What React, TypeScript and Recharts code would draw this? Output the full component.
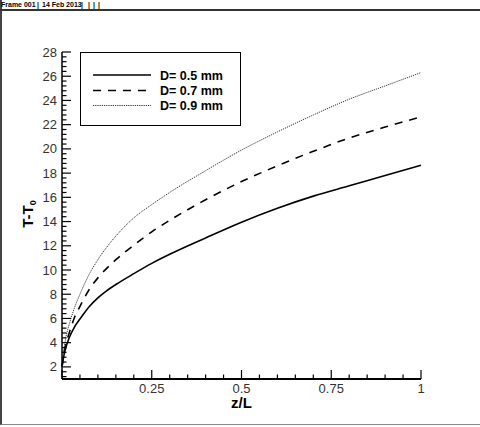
import { Line, LineChart, XAxis, YAxis } from 'recharts';

// z/L sample positions and temperature rise
const zValues = [0, 0.005, 0.01, 0.02, 0.035, 0.05, 0.075, 0.1, 0.125, 0.15, 0.2, 0.25, 0.3, 0.4, 0.5, 0.6, 0.7, 0.8, 0.9, 1];
const riseD05 = [2.0, 2.9, 3.5, 4.4, 5.3, 5.95, 6.95, 7.7, 8.3, 8.8, 9.7, 10.55, 11.3, 12.65, 13.95, 15.1, 16.1, 16.95, 17.8, 18.65];
const riseD07 = [2.0, 3.1, 3.8, 4.8, 6.1, 7.0, 8.35, 9.35, 10.15, 10.85, 12.05, 13.15, 14.1, 15.8, 17.3, 18.6, 19.8, 20.9, 21.8, 22.65];
const riseD09 = [2.0, 3.3, 4.3, 5.5, 6.9, 8.0, 9.6, 10.85, 11.9, 12.8, 14.3, 15.4, 16.4, 18.2, 19.9, 21.4, 22.8, 24.1, 25.2, 26.3];

const seriesNames = ['D= 0.5 mm', 'D= 0.7 mm', 'D= 0.9 mm'];

const xMajorTicks = [0.25, 0.5, 0.75, 1];
const xTickLabels = ['0.25', '0.5', '0.75', '1'];
const yMajorTicks = [2, 4, 6, 8, 10, 12, 14, 16, 18, 20, 22, 24, 26, 28];

const FONT = '"Liberation Sans", Arial, sans-serif';

const data = zValues.map((z, i) => ({ z, d05: riseD05[i], d07: riseD07[i], d09: riseD09[i] }));

// minor ticks: every 0.05 on x, every 0.4 on y
const xTicks = Array.from({ length: 21 }, (_, i) => Math.round(i * 5) / 100);
const yTicks = Array.from({ length: 68 }, (_, i) => Math.round(12 + i * 4) / 10);

const lineStyles = [
  { key: 'd05', stroke: '#000', width: 1.6, dash: undefined as string | undefined },
  { key: 'd07', stroke: '#000', width: 1.6, dash: '8 7' },
  { key: 'd09', stroke: '#333', width: 1, dash: '1.2 1' },
];

function XTick(props: any) {
  const { x, y, payload } = props;
  const v = payload.value as number;
  const idx = xMajorTicks.indexOf(v);
  const len = idx >= 0 || v === 0 ? 9 : 4.5;
  return (
    <g>
      <path d={`M${x},${y}L${x},${y - len}`} stroke="#000" strokeWidth={1.2} fill="none" />
      {idx >= 0 && (
        <text x={x} y={y + 13.5} textAnchor="middle" fontSize={13} fill="#333" fontFamily={FONT}>
          {xTickLabels[idx]}
        </text>
      )}
    </g>
  );
}

function YTick(props: any) {
  const { x, y, payload } = props;
  const v = payload.value as number;
  const major = yMajorTicks.includes(v);
  const len = major ? 9 : 4.5;
  return (
    <g>
      <path d={`M${x},${y}L${x + len},${y}`} stroke="#000" strokeWidth={1.2} fill="none" />
      {major && (
        <text x={x - 5} y={y + 4.5} textAnchor="end" fontSize={13} fill="#333" fontFamily={FONT}>
          {v}
        </text>
      )}
    </g>
  );
}

// legend + axis titles drawn on a transparent layer over the chart
function Overlay() {
  const rows = [75, 90.5, 105.5];
  const cy = 214;
  return (
    <svg
      width={480}
      height={427}
      style={{ position: 'absolute', left: 0, top: 0, pointerEvents: 'none' }}
    >
      <rect x={80.5} y={52.5} width={160} height={73} fill="#fff" stroke="#000" strokeWidth={1} />
      {lineStyles.map((s, i) => (
        <g key={s.key}>
          <line x1={93} x2={151} y1={rows[i]} y2={rows[i]} stroke={s.stroke} strokeWidth={s.width} strokeDasharray={s.dash} />
          <text x={160} y={rows[i] + 4.5} fontSize={12.5} fontWeight="bold" fill="#000" fontFamily={FONT}>
            {seriesNames[i]}
          </text>
        </g>
      ))}
      <text x={241.5} y={408} textAnchor="middle" fontSize={15} fontWeight="bold" fill="#000" fontFamily={FONT}>
        z/L
      </text>
      <text
        x={33}
        y={cy}
        transform={`rotate(-90, 33, ${cy})`}
        textAnchor="middle"
        fontSize={15}
        fontWeight="bold"
        fill="#000"
        fontFamily={FONT}
      >
        T-T
        <tspan fontSize={9} dy={3}>
          0
        </tspan>
      </text>
    </svg>
  );
}

export default function App() {
  return (
    <div style={{ position: 'fixed', left: 0, top: 0, width: 480, height: 427, background: '#fff', fontFamily: FONT }}>
      <LineChart width={480} height={427} data={data} margin={{ top: 52, right: 59, bottom: 18, left: 0 }}>
        <XAxis
          dataKey="z"
          type="number"
          domain={[0, 1]}
          ticks={xTicks}
          interval={0}
          tickSize={0}
          tickMargin={0}
          height={30}
          axisLine={{ stroke: '#000', strokeWidth: 2 }}
          tickLine={false}
          tick={XTick}
        />
        <XAxis
          xAxisId="top"
          orientation="top"
          dataKey="z"
          type="number"
          domain={[0, 1]}
          height={0}
          tick={false}
          tickLine={false}
          axisLine={{ stroke: '#000', strokeWidth: 1.5 }}
        />
        <YAxis
          type="number"
          domain={[1, 28]}
          ticks={yTicks}
          interval={0}
          tickSize={0}
          tickMargin={0}
          width={62}
          axisLine={{ stroke: '#000', strokeWidth: 1.5 }}
          tickLine={false}
          tick={YTick}
        />
        <YAxis
          yAxisId="right"
          orientation="right"
          type="number"
          domain={[1, 28]}
          width={0}
          tick={false}
          tickLine={false}
          axisLine={{ stroke: '#000', strokeWidth: 1.5 }}
        />
        {lineStyles.map((s, i) => (
          <Line
            key={s.key}
            dataKey={s.key}
            name={seriesNames[i]}
            type="monotone"
            stroke={s.stroke}
            strokeWidth={s.width}
            strokeDasharray={s.dash}
            dot={false}
            activeDot={false}
            isAnimationActive={false}
          />
        ))}
      </LineChart>

      <Overlay />

      {/* Tecplot frame decoration */}
      <div
        style={{
          position: 'absolute',
          left: 0,
          top: 0,
          width: 478,
          height: 424,
          borderLeft: '2px solid #444',
          borderRight: '1px solid #555',
          borderBottom: '1px solid #888',
          pointerEvents: 'none',
        }}
      />
      <div style={{ position: 'absolute', left: 0, top: 9, width: 480, height: 1.5, background: '#333' }} />
      <div style={{ position: 'absolute', left: 1, top: 0, fontSize: 7, fontWeight: 'bold', lineHeight: '9px', whiteSpace: 'pre' }}>
        <span style={{ position: 'absolute', left: 0 }}>Frame 001</span>
        <span style={{ position: 'absolute', left: 36 }}>|</span>
        <span style={{ position: 'absolute', left: 41 }}>14 Feb 2013</span>
        <span style={{ position: 'absolute', left: 80 }}>|</span>
        <span style={{ position: 'absolute', left: 87 }}>|</span>
        <span style={{ position: 'absolute', left: 92 }}>|</span>
        <span style={{ position: 'absolute', left: 97 }}>|</span>
      </div>
    </div>
  );
}
